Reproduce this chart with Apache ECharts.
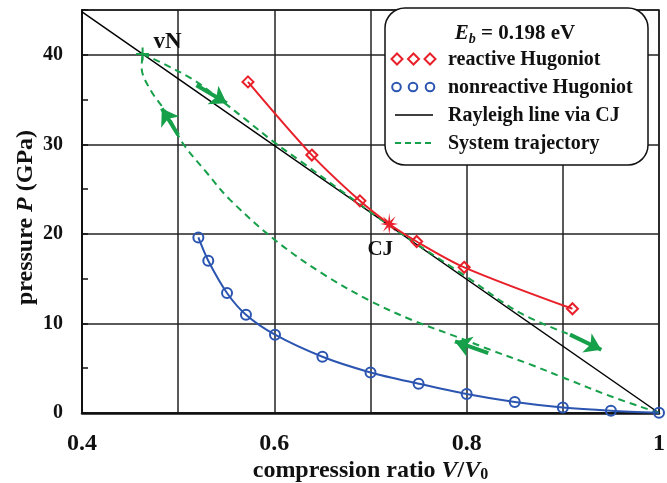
<!DOCTYPE html>
<html>
<head>
<meta charset="utf-8">
<script src="https://cdn.jsdelivr.net/npm/echarts@6/dist/echarts.min.js"></script>
<style>html,body{margin:0;padding:0;background:#fff}#c{width:667px;height:483px}</style>
</head>
<body>
<div id="c"></div>
<script>
// ---- data ----
const xTickLabels = [0.4, 0.6, 0.8, 1];
const yTickLabels = [0, 10, 20, 30, 40];

const reactiveV = [0.5726, 0.639, 0.689, 0.7195, 0.748, 0.7974, 0.910];
const reactiveP = [36.97, 28.8, 23.69, 21.1, 19.15, 16.27, 11.64];

const cjV = [0.7195];
const cjP = [21.1];

const nonreactiveV = [0.521, 0.5313, 0.5508, 0.5705, 0.6007, 0.650, 0.700, 0.750, 0.800, 0.850, 0.900, 0.950, 1.0];
const nonreactiveP = [19.6, 17.0, 13.4, 10.97, 8.74, 6.28, 4.53, 3.27, 2.12, 1.23, 0.62, 0.26, 0.03];

const rayleighV = [0.4, 1.0];
const rayleighP = [44.8, 0];

const vnV = [0.463];
const vnP = [40.1];

// system trajectory: lower branch (from V/V0=1 up to vN), upper branch (vN back down)
const trajLowerV = [1.0, 0.949, 0.904, 0.869, 0.821, 0.790, 0.745, 0.700, 0.651, 0.602, 0.554, 0.530, 0.505, 0.488, 0.471, 0.462, 0.463];
const trajLowerP = [0.0, 1.9, 3.8, 5.3, 7.2, 8.5, 10.3, 12.5, 15.5, 19.2, 23.8, 26.8, 30.1, 33.5, 36.1, 38.6, 40.1];
const trajUpperV = [0.463, 0.481, 0.516, 0.540, 0.571, 0.599, 0.630, 0.680, 0.731, 0.800, 0.855, 0.905];
const trajUpperP = [40.1, 39.2, 37.2, 35.3, 32.7, 30.3, 27.9, 24.0, 20.1, 15.2, 11.2, 8.85];

// direction arrows on the trajectory
const arrowFromV = [0.519, 0.500, 0.8225, 0.9075];
const arrowFromP = [36.6, 31.05, 6.69, 8.75];
const arrowToV = [0.5505, 0.483, 0.7879, 0.940];
const arrowToP = [34.6, 34.0, 7.99, 7.06];

// ---- styles ----
const RED = '#e8202a', BLUE = '#2b55b0', GREEN = '#17a04a';
const INK = '#111';
const FONT = '"Liberation Serif", "Times New Roman", serif';
const zip = (a, b) => a.map((v, i) => [v, b[i]]);

const starPath = 'path://M10,0 L11.15,7.23 L17.07,2.93 L12.77,8.85 L20,10 L12.77,11.15 L17.07,17.07 L11.15,12.77 L10,20 L8.85,12.77 L2.93,17.07 L7.23,11.15 L0,10 L7.23,8.85 L2.93,2.93 L8.85,7.23 Z';
const plusPath = 'path://M0,6 L12,6 M6,0 L6,12';

const chart = echarts.init(document.getElementById('c'), null, {renderer: 'canvas'});

const reactiveData = zip(reactiveV, reactiveP).map((d, i) => {
  const isCJ = reactiveV[i] === cjV[0];
  return isCJ ? {value: d, symbol: 'none'} : d;
});

const arrowLines = arrowFromV.map((v, i) => [
  {coord: [v, arrowFromP[i]]},
  {coord: [arrowToV[i], arrowToP[i]]}
]);

const option = {
  animation: false,
  backgroundColor: '#fff',
  grid: {left: 82, right: 8, top: 10, bottom: 70, outerBoundsMode: 'none', containLabel: false,
    show: true, borderColor: INK, borderWidth: 1.5, backgroundColor: 'transparent'},
  xAxis: {
    type: 'value', min: 0.4, max: 1, interval: 0.1,
    name: '{a|compression ratio }{i|V}{a|/}{i|V}{s|0}',
    nameLocation: 'middle', nameGap: 45, nameMoveOverlap: false,
    nameTextStyle: {
      rich: {
        a: {fontFamily: FONT, fontWeight: 'bold', fontSize: 24, color: INK},
        i: {fontFamily: FONT, fontWeight: 'bold', fontStyle: 'italic', fontSize: 24, color: INK},
        s: {fontFamily: FONT, fontWeight: 'bold', fontSize: 16, color: INK, padding: [9, 0, 0, 0]}
      }
    },
    axisLine: {lineStyle: {color: INK, width: 2.5}},
    axisTick: {show: false},
    splitLine: {lineStyle: {color: '#222', width: 1.5}},
    axisLabel: {
      margin: 19, fontFamily: FONT, fontWeight: 'bold', fontSize: 24, color: INK,
      formatter: v => xTickLabels.some(t => Math.abs(t - v) < 1e-6) ? String(+v.toFixed(1)) : ''
    }
  },
  yAxis: [{
    type: 'value', min: 0, max: 45, interval: 10,
    name: '{a|pressure }{i|P}{a| (GPa)}',
    nameLocation: 'middle', nameGap: 44, nameMoveOverlap: false,
    nameTextStyle: {
      padding: [0, 12, 0, 0],
      rich: {
        a: {fontFamily: FONT, fontWeight: 'bold', fontSize: 24, color: INK},
        i: {fontFamily: FONT, fontWeight: 'bold', fontStyle: 'italic', fontSize: 24, color: INK}
      }
    },
    axisLine: {show: true, lineStyle: {color: INK, width: 2}},
    axisTick: {show: false},
    splitLine: {lineStyle: {color: '#222', width: 1.5}},
    axisLabel: {
      margin: 19, fontFamily: FONT, fontWeight: 'bold', fontSize: 20, color: INK,
      showMaxLabel: false,
      formatter: v => yTickLabels.includes(v) ? String(v) : ''
    }
  }, {
    type: 'value', min: 0, max: 45, interval: 5, position: 'left',
    axisLine: {show: false}, axisLabel: {show: false}, splitLine: {show: false},
    axisTick: {show: true, inside: true, length: 6, lineStyle: {color: INK, width: 1.5}}
  }],
  series: [
    {
      name: 'Rayleigh line via CJ', type: 'line', data: zip(rayleighV, rayleighP),
      symbol: 'none', lineStyle: {color: '#000', width: 1.5}, z: 3
    },
    {
      name: 'System trajectory', type: 'line', data: zip(trajLowerV, trajLowerP),
      symbol: 'none', smooth: 0.35, lineStyle: {color: GREEN, width: 2, type: [7, 5]}, z: 4
    },
    {
      name: 'System trajectory', type: 'line', data: zip(trajUpperV, trajUpperP),
      symbol: 'none', smooth: 0.35, lineStyle: {color: GREEN, width: 2, type: [7, 5]}, z: 4
    },
    {
      name: 'arrows', type: 'line', data: [], z: 5, color: GREEN,
      markLine: {
        silent: true, symbol: ['none', 'arrow'], symbolSize: 16,
        label: {show: false},
        itemStyle: {color: GREEN},
        lineStyle: {color: GREEN, width: 4, type: 'solid'},
        data: arrowLines
      }
    },
    {
      name: 'reactive Hugoniot', type: 'line', data: reactiveData,
      smooth: 0.3, symbol: 'diamond', symbolSize: 11,
      lineStyle: {color: RED, width: 2},
      itemStyle: {color: 'rgba(0,0,0,0)', borderColor: RED, borderWidth: 2}, z: 6
    },
    {
      name: 'nonreactive Hugoniot', type: 'line', data: zip(nonreactiveV, nonreactiveP),
      smooth: 0.3, symbol: 'circle', symbolSize: 10,
      lineStyle: {color: BLUE, width: 2},
      itemStyle: {color: 'rgba(0,0,0,0)', borderColor: BLUE, borderWidth: 2}, z: 6
    },
    {
      name: 'CJ', type: 'scatter', data: zip(cjV, cjP),
      symbol: starPath, symbolSize: [18, 22],
      itemStyle: {color: RED, opacity: 1},
      label: {show: true, formatter: 'CJ', position: 'inside', offset: [-9, 26],
        fontFamily: FONT, fontWeight: 'bold', fontSize: 21, color: INK, opacity: 1},
      z: 7
    },
    {
      name: 'vN', type: 'scatter', data: zip(vnV, vnP),
      symbol: plusPath, symbolSize: 13,
      itemStyle: {color: 'rgba(0,0,0,0)', borderColor: GREEN, borderWidth: 2, opacity: 1},
      label: {show: true, formatter: 'vN', position: 'inside', offset: [25, -12],
        fontFamily: FONT, fontWeight: 'bold', fontSize: 23, color: INK, opacity: 1},
      z: 7
    }
  ],
  graphic: [
    {type: 'rect', z: 100, shape: {x: 385, y: 8, width: 263, height: 157, r: 20},
      style: {fill: '#fff', stroke: INK, lineWidth: 1.5}},
    {type: 'text', z: 101, x: 515, y: 34,
      style: {text: '{i|E}{s|b}{n| = 0.198 eV}', align: 'center', verticalAlign: 'middle',
        rich: {
          i: {fontFamily: FONT, fontWeight: 'bold', fontStyle: 'italic', fontSize: 21, fill: INK},
          s: {fontFamily: FONT, fontWeight: 'bold', fontStyle: 'italic', fontSize: 14, fill: INK, padding: [10, 0, 0, 0]},
          n: {fontFamily: FONT, fontWeight: 'bold', fontSize: 21, fill: INK}
        }}},
    ...[397, 413.5, 430].map(x => ({type: 'polygon', z: 101, shape: {points: [[x, 53.5], [x + 5.5, 59], [x, 64.5], [x - 5.5, 59]]},
      style: {fill: 'none', stroke: RED, lineWidth: 2}})),
    ...[396.5, 413, 430].map(x => ({type: 'circle', z: 101, shape: {cx: x, cy: 87, r: 4.3},
      style: {fill: 'none', stroke: BLUE, lineWidth: 2}})),
    {type: 'line', z: 101, shape: {x1: 395, y1: 115, x2: 433, y2: 115}, style: {stroke: '#000', lineWidth: 1.5}},
    {type: 'line', z: 101, shape: {x1: 395, y1: 143, x2: 433, y2: 143}, style: {stroke: GREEN, lineWidth: 2, lineDash: [6, 4]}},
    ...['reactive Hugoniot', 'nonreactive Hugoniot', 'Rayleigh line via CJ', 'System trajectory'].map((t, i) => ({
      type: 'text', z: 101, x: 448, y: 60 + i * 28,
      style: {text: t, fontFamily: FONT, fontWeight: 'bold', fontSize: 20, fill: INK, verticalAlign: 'middle'}
    }))
  ]
};
chart.setOption(option);
</script>
</body>
</html>
